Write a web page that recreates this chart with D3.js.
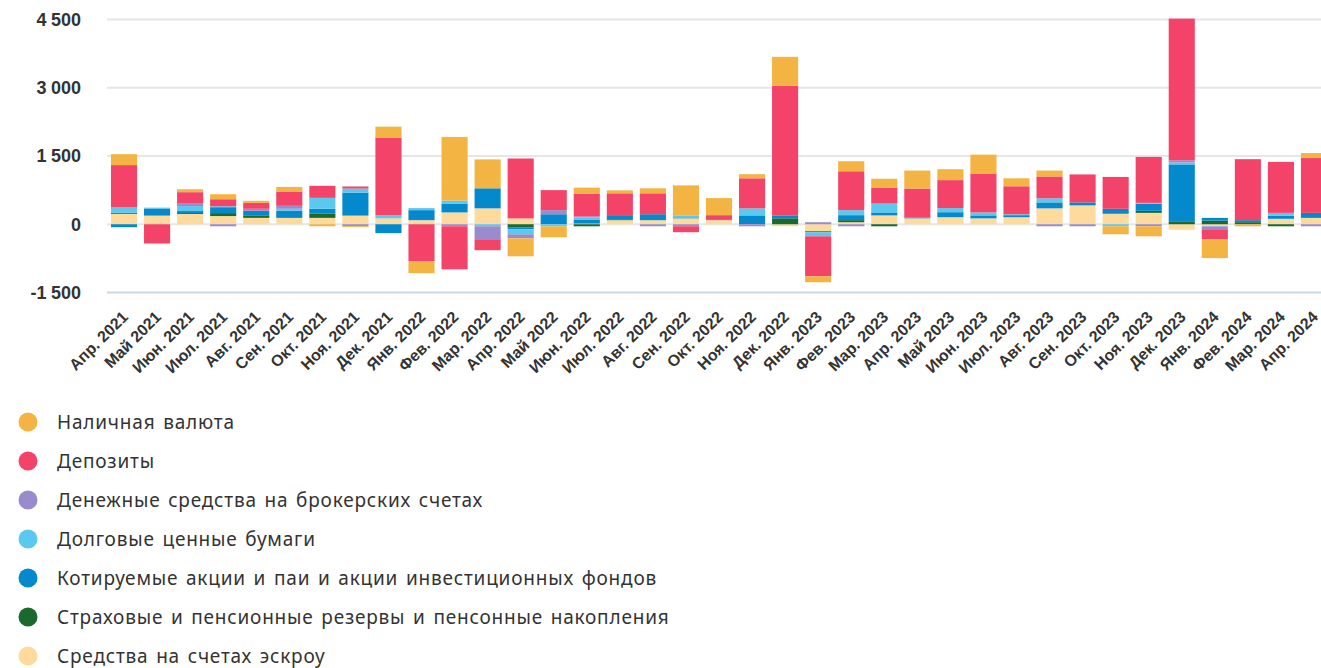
<!DOCTYPE html>
<html>
<head>
<meta charset="utf-8">
<script src="https://cdn.jsdelivr.net/npm/d3@7"></script>
<style>
  body { margin: 0; background: #fff; }
  #content { width: 1321px; height: 668px; overflow: hidden; }
</style>
</head>
<body>
<div id="content"></div>
<script>
// Months on the x axis
var months = ['Апр. 2021','Май 2021','Июн. 2021','Июл. 2021','Авг. 2021','Сен. 2021','Окт. 2021','Ноя. 2021','Дек. 2021',
  'Янв. 2022','Фев. 2022','Мар. 2022','Апр. 2022','Май 2022','Июн. 2022','Июл. 2022','Авг. 2022','Сен. 2022','Окт. 2022','Ноя. 2022','Дек. 2022',
  'Янв. 2023','Фев. 2023','Мар. 2023','Апр. 2023','Май 2023','Июн. 2023','Июл. 2023','Авг. 2023','Сен. 2023','Окт. 2023','Ноя. 2023','Дек. 2023',
  'Янв. 2024','Фев. 2024','Мар. 2024','Апр. 2024'];

// Series values, one per month
var cash      = [240, -20, 65, 110, 45, 110, -45, -20, 240, -265, 1400, 635, -395, -240, 130, 65, 110, 660, 375, 90, 635,
                 -130, 220, 195, 395, 240, 415, 175, 130, 0, -175, -220, 0, -415, -45, 0, 110];
var deposits  = [920, -415, 240, 155, 130, 305, 265, 45, 1710, -810, -945, -240, 1315, 440, 505, 480, 460, -130, 90, 660, 2850,
                 -880, 855, 350, 635, 615, 855, 615, 480, 615, 700, 1010, 3115, -220, 1340, 1120, 1205];
var broker    = [0, 0, 65, -45, 45, 65, 0, -45, 0, 0, -45, -285, -90, 90, 20, 0, -45, -45, 0, -45, 0,
                 45, -45, 0, 0, 0, 0, 0, -45, -45, 0, -45, 45, -65, 0, 0, -45];
var debt      = [130, 20, 110, 20, 0, 45, 240, 90, 65, 45, 65, -45, -110, -45, 45, 0, 0, 45, 0, 155, 0,
                 -90, 110, 195, 0, 90, 65, 20, 90, 0, -45, 20, 45, 0, 0, 65, 0];
var shares    = [-65, 155, 45, 130, 110, 155, 110, 505, -195, 220, 195, 440, -45, 220, 90, 90, 130, 20, 20, 195, 65,
                 0, 110, 65, 20, 110, 65, 45, 130, 65, 110, 155, 1250, 60, 45, 65, 110];
var insurance = [20, 0, 20, 65, 45, 0, 90, 0, 0, 0, 0, 0, -65, 0, -45, 20, 0, 0, 0, 0, 130,
                 -20, 45, -45, 0, 0, 0, 0, 0, 0, 0, 45, 65, 80, 45, -45, 0];
var escrow    = [230, 190, 225, 180, 140, 140, 140, 190, 130, 90, 260, 350, 130, 0, 15, 90, 90, 130, 90, 0, -45,
                 -155, 45, 195, 130, 155, 130, 155, 350, 415, 230, 250, -120, -45, 0, 120, 140];

var yTicks = [-1500, 0, 1500, 3000, 4500];

// Legend order (top to bottom) and colors
var seriesNames = ['Наличная валюта', 'Депозиты', 'Денежные средства на брокерских счетах', 'Долговые ценные бумаги',
  'Котируемые акции и паи и акции инвестиционных фондов', 'Страховые и пенсионные резервы и пенсонные накопления', 'Средства на счетах эскроу'];
var seriesKeys = ['cash', 'deposits', 'broker', 'debt', 'shares', 'insurance', 'escrow'];
var seriesColors = ['#f4b443', '#f44369', '#9a8ccc', '#5bc8ef', '#0389cc', '#1a6a2e', '#fedb9d'];

(function() {

  var W = 1321, H = 668;

  // build rows for d3.stack
  var data = months.map(function(m, i) {
    return { month: m, cash: cash[i], deposits: deposits[i], broker: broker[i], debt: debt[i],
             shares: shares[i], insurance: insurance[i], escrow: escrow[i] };
  });

  // stacking goes from the axis outwards: escrow first, cash last
  var stackKeys = seriesKeys.slice().reverse();
  var stacked = d3.stack().keys(stackKeys).offset(d3.stackOffsetDiverging)(data);

  var color = d3.scaleOrdinal().domain(seriesKeys).range(seriesColors);

  // plot area runs a bit past the right edge, like the original
  var x = d3.scaleBand().domain(months).range([107, 1331]).paddingInner(0.21).paddingOuter(0.12);
  var y = d3.scaleLinear().domain([-1500, 4500]).range([292.5, 19.5]);

  var svg = d3.select('#content').append('svg')
      .attr('width', W)
      .attr('height', H);

  // grid lines
  svg.append('g').selectAll('line')
      .data(yTicks)
      .enter().append('line')
      .attr('x1', 107)
      .attr('x2', W)
      .attr('y1', function(d) { return y(d); })
      .attr('y2', function(d) { return y(d); })
      .attr('stroke', function(d) { return d == -1500 ? '#ccd6eb' : '#e6e6e6'; })
      .attr('stroke-width', 2);

  // y labels
  var fmt = function(d) { return d3.format(',')(d).replace(/,/g, '\u2005').replace('−', '-'); };
  svg.append('g').selectAll('text')
      .data(yTicks)
      .enter().append('text')
      .attr('x', 81)
      .attr('y', function(d) { return y(d); })
      .attr('dy', '0.35em')
      .attr('text-anchor', 'end')
      .style('font-family', '"Liberation Sans", Arial, sans-serif')
      .style('font-size', '18px')
      .style('font-weight', 'bold')
      .style('fill', '#333')
      .text(fmt);

  // bars
  svg.append('g').selectAll('g')
      .data(stacked)
      .enter().append('g')
      .attr('fill', function(d) { return color(d.key); })
      .selectAll('rect')
      .data(function(d) { return d; })
      .enter().append('rect')
      .attr('x', function(d) { return x(d.data.month); })
      .attr('width', x.bandwidth())
      .attr('y', function(d) { return y(Math.max(d[0], d[1])); })
      .attr('height', function(d) { return Math.abs(y(d[0]) - y(d[1])); });

  // x labels, rotated
  svg.append('g').selectAll('text')
      .data(months)
      .enter().append('text')
      .attr('transform', function(d) {
        return 'translate(' + (x(d) + x.bandwidth() / 2 + 5) + ',318) rotate(-45)';
      })
      .attr('text-anchor', 'end')
      .style('font-family', '"Liberation Sans", Arial, sans-serif')
      .style('font-size', '16px')
      .style('font-weight', 'bold')
      .style('fill', '#333')
      .text(function(d) { return d; });

  // legend
  var legend = svg.append('g').selectAll('g')
      .data(seriesNames)
      .enter().append('g')
      .attr('transform', function(d, i) { return 'translate(0,' + (422 + i * 39) + ')'; });

  legend.append('circle')
      .attr('cx', 28)
      .attr('cy', 0)
      .attr('r', 9.5)
      .attr('fill', function(d, i) { return seriesColors[i]; });

  legend.append('text')
      .attr('x', 57)
      .attr('y', 0)
      .attr('dy', '0.35em')
      .style('font-family', '"Noto Sans", sans-serif')
      .style('font-size', '19px')
      .style('letter-spacing', '0.8px')
      .style('word-spacing', '2px')
      .style('fill', '#333')
      .text(function(d) { return d; });

})();
</script>
</body>
</html>
